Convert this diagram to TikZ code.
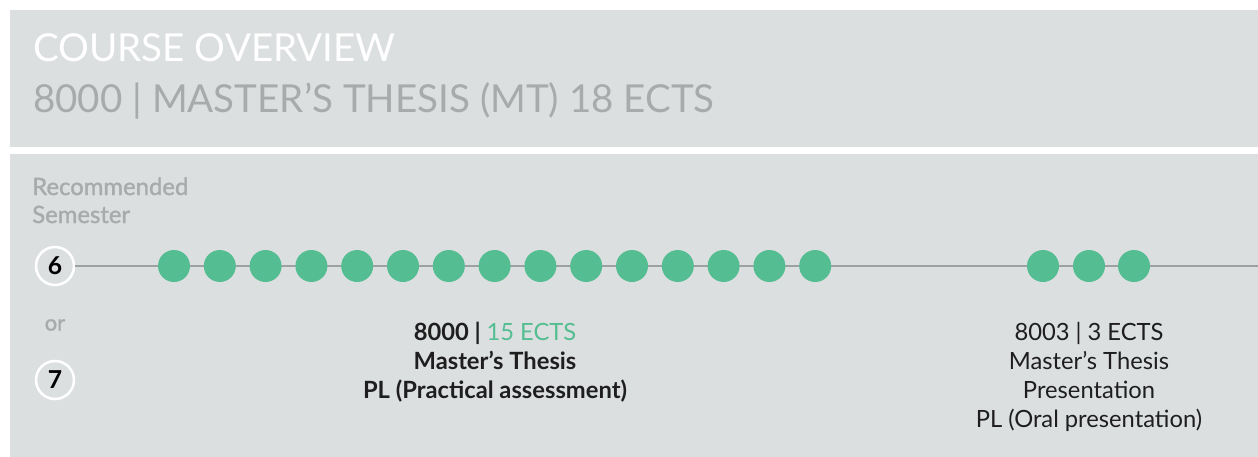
\documentclass[tikz,border=0pt]{standalone}
\usepackage{fontspec}
\setmainfont{Lato}
\newfontfamily\latosemi[FakeBold=1.3]{Lato}
\definecolor{panelgrey}{RGB}{220,223,224}
\definecolor{subgrey}{RGB}{168,171,172}
\definecolor{linegrey}{RGB}{158,161,162}
\definecolor{dotgreen}{RGB}{84,190,146}
\definecolor{textdark}{RGB}{30,30,30}
\tikzset{
  dot/.style={circle, fill=dotgreen, inner sep=0pt, minimum size=24pt},
  semcircle/.style={circle, draw=white, line width=1.9pt, fill=panelgrey, inner sep=0pt, minimum size=28.5pt, font=\fontsize{18.5}{18}\selectfont\bfseries, text=black},
  moduletext/.style={align=center, text=textdark, anchor=base, font=\fontsize{17.8}{21.75}\selectfont},
}
\begin{document}
\begin{tikzpicture}[x=0.75pt,y=-0.75pt]
\useasboundingbox (0,0) rectangle (1258,457);
\fill[white] (0,0) rectangle (1258,457);
\fill[panelgrey] (10,10) rectangle (1258,147);
\fill[panelgrey] (10,154) rectangle (1258,457);
\node[anchor=base west, inner sep=0pt, text=white, font=\fontsize{28.9}{34}\selectfont] (title) at (33,61) {COURSE OVERVIEW};
\node[anchor=base west, inner sep=0pt, text=subgrey, font=\fontsize{28.9}{34}\selectfont] (subtitle) at (33,112) {8000 | MASTER’S THESIS (MT) 18 ECTS};
\node[anchor=base west, inner sep=0pt, align=left, text=subgrey, font=\fontsize{17.9}{21}\latosemi] (rec) at (32,223) {Recommended\\Semester};
\node[semcircle] (s6) at (55,266) {6};
\node[text=subgrey, font=\fontsize{16.5}{18}\latosemi] (or) at (55,325) {or};
\node[semcircle] (s7) at (55,380) {7};
\coordinate (lineend) at (1258,266);
\draw[linegrey, line width=1.5pt] (s6.east) -- (lineend);
\foreach \i in {0,...,14} {
  \node[dot] (d\i) at ({174+\i*45.8},266) {};
}
\node[dot] (e0) at (1043,266) {};
\node[dot] (e1) at (1089,266) {};
\node[dot] (e2) at (1134,266) {};
\node[moduletext, font=\fontsize{17.8}{21.75}\selectfont\bfseries] (m1) at (495,398) {8000 | \textcolor{dotgreen}{\mdseries 15 ECTS}\\Master’s Thesis\\PL (Practical assessment)};
\node[moduletext] (m2) at (1089,427) {8003 | 3 ECTS\\Master’s Thesis\\Presentation\\PL (Oral presentation)};
\end{tikzpicture}
\end{document}
